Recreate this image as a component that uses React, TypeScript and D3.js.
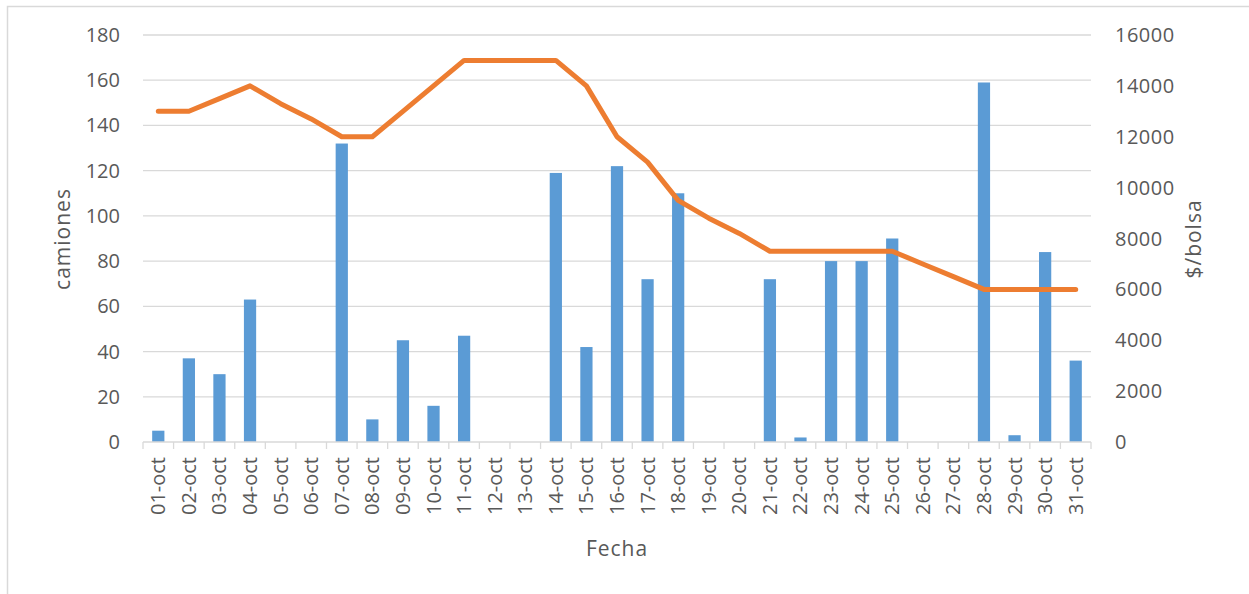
import React from 'react';
import * as d3 from 'd3';

const fechas = [
  '01-oct', '02-oct', '03-oct', '04-oct', '05-oct', '06-oct', '07-oct', '08-oct',
  '09-oct', '10-oct', '11-oct', '12-oct', '13-oct', '14-oct', '15-oct', '16-oct',
  '17-oct', '18-oct', '19-oct', '20-oct', '21-oct', '22-oct', '23-oct', '24-oct',
  '25-oct', '26-oct', '27-oct', '28-oct', '29-oct', '30-oct', '31-oct'
];

const camiones = [
  5, 37, 30, 63, 0, 0, 132, 10, 45, 16, 47, 0, 0, 119, 42, 122,
  72, 110, 0, 0, 72, 2, 80, 80, 90, 0, 0, 159, 3, 84, 36
];

const precioBolsa = [
  13000, 13000, 13500, 14000, 13300, 12700, 12000, 12000, 13000, 14000, 15000,
  15000, 15000, 15000, 14000, 12000, 11000, 9500, 8800, 8200, 7500, 7500,
  7500, 7500, 7500, 7000, 6500, 6000, 6000, 6000, 6000
];

const ticksIzq = [0, 20, 40, 60, 80, 100, 120, 140, 160, 180];
const ticksDer = [0, 2000, 4000, 6000, 8000, 10000, 12000, 14000, 16000];

const W = 1249;
const H = 594;
const m = { left: 143, right: 1091, top: 35, bottom: 442 };
const font = '"Open Sans", "Noto Sans", sans-serif';
const gris = '#595959';

const App: React.FC = () => {
  const x = d3.scaleBand<string>()
    .domain(fechas)
    .range([m.left, m.right])
    .paddingInner(0.6)
    .paddingOuter(0.3);

  const yIzq = d3.scaleLinear().domain([0, 180]).range([m.bottom, m.top]);
  const yDer = d3.scaleLinear().domain([0, 16000]).range([m.bottom, m.top]);

  const step = (m.right - m.left) / fechas.length;
  const centro = (f: string) => m.left + (fechas.indexOf(f) + 0.5) * step;

  const linea = d3.line<number>()
    .x((_, i) => centro(fechas[i]))
    .y(d => yDer(d));

  const barW = x.bandwidth();

  return (
    <svg width={W} height={H} style={{ position: 'absolute', left: 0, top: 0 }}>
      <rect x={0} y={0} width={W} height={H} fill="#fff" />
      {/* marco del grafico */}
      <rect x={7.5} y={6.5} width={W + 20} height={H + 20} fill="none" stroke="#d9d9d9" strokeWidth={1.5} />

      {/* lineas de division */}
      {ticksIzq.slice(1).map(t => (
        <line key={t} x1={m.left} x2={m.right} y1={yIzq(t)} y2={yIzq(t)} stroke="#d9d9d9" strokeWidth={1.3} />
      ))}

      {/* barras */}
      {camiones.map((v, i) => (
        <rect
          key={fechas[i]}
          x={centro(fechas[i]) - barW / 2}
          y={yIzq(v)}
          width={barW}
          height={m.bottom - yIzq(v)}
          fill="#5B9BD5"
        />
      ))}

      {/* eje x */}
      <line x1={m.left} x2={m.right} y1={m.bottom} y2={m.bottom} stroke="#d9d9d9" strokeWidth={1.3} />
      {d3.range(fechas.length + 1).map(i => (
        <line key={i} x1={m.left + i * step} x2={m.left + i * step} y1={m.bottom} y2={m.bottom + 7} stroke="#d9d9d9" strokeWidth={1.3} />
      ))}
      {fechas.map(f => (
        <text
          key={f}
          transform={`translate(${centro(f) + 7},${m.bottom + 15}) rotate(-90)`}
          textAnchor="end"
          fontFamily={font}
          fontSize={20}
          fill={gris}
        >
          {f}
        </text>
      ))}

      {/* linea de precio */}
      <path d={linea(precioBolsa) || ''} fill="none" stroke="#ED7D31" strokeWidth={5} strokeLinejoin="round" strokeLinecap="round" />

      {/* eje izquierdo */}
      {ticksIzq.map(t => (
        <text key={t} x={120} y={yIzq(t) + 7} textAnchor="end" fontFamily={font} fontSize={20} fill={gris}>
          {t}
        </text>
      ))}
      {/* eje derecho */}
      {ticksDer.map(t => (
        <text key={t} x={1115} y={yDer(t) + 7} textAnchor="start" fontFamily={font} fontSize={20} fill={gris} letterSpacing={0.5}>
          {t}
        </text>
      ))}

      {/* titulos */}
      <text transform="translate(70,239) rotate(-90)" textAnchor="middle" fontFamily={font} fontSize={21} fill={gris} letterSpacing={1}>
        camiones
      </text>
      <text transform="translate(1201,239) rotate(-90)" textAnchor="middle" fontFamily={font} fontSize={21} fill={gris} letterSpacing={1}>
        $/bolsa
      </text>
      <text x={617} y={556} textAnchor="middle" fontFamily={font} fontSize={21} fill={gris} letterSpacing={1}>
        Fecha
      </text>
    </svg>
  );
};

export default App;
